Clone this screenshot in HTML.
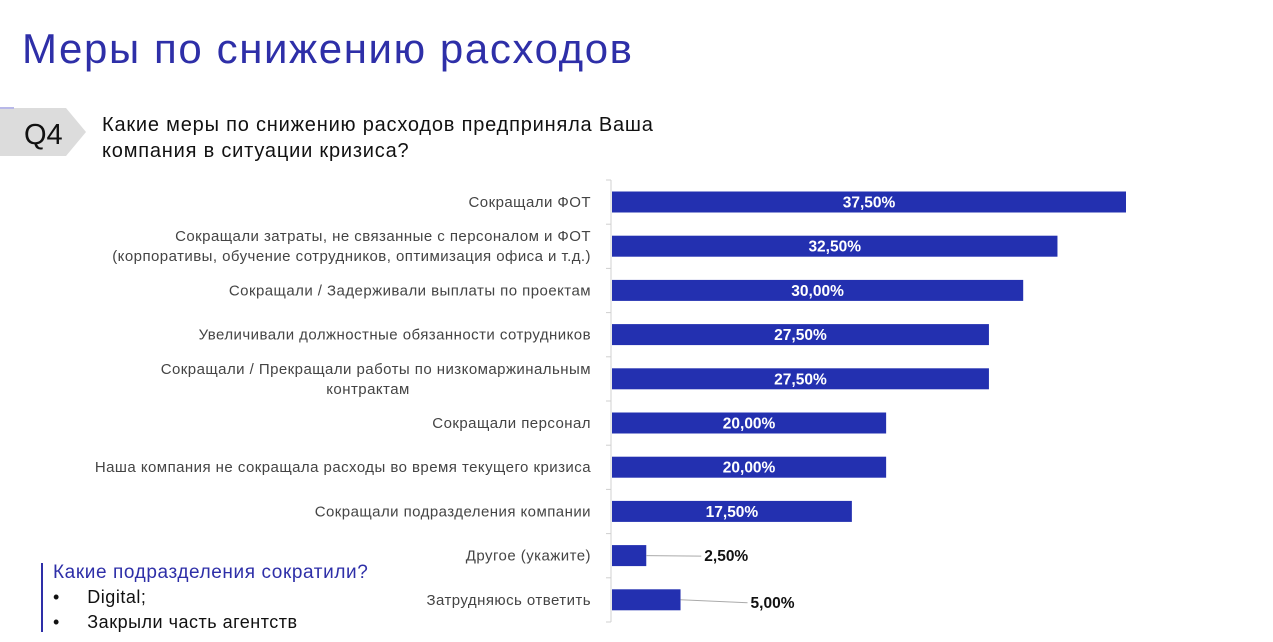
<!DOCTYPE html>
<html><head><meta charset="utf-8"><style>
body{margin:0;width:1273px;height:642px;background:#fff;font-family:"Liberation Sans","Noto Sans CJK SC",sans-serif;position:relative;overflow:hidden}
.t{position:absolute;white-space:nowrap}
</style></head><body>
<div class="t" style="left:22px;top:25px;font-size:42px;letter-spacing:1.6px;color:#2e2fa8">Меры по снижению расходов</div>
<svg style="position:absolute;left:0;top:0" width="200" height="170">
<polygon points="0,108 66,108 86,132 66,156 0,156" fill="#dcdcdc"/>
<line x1="0" y1="108" x2="14" y2="108" stroke="#b8b8e8" stroke-width="2"/>
<text x="24" y="144" font-size="29" font-family="Liberation Sans" fill="#111">Q4</text>
</svg>
<div class="t" style="left:102px;top:112px;font-size:20px;letter-spacing:0.8px;line-height:26px;color:#111">Какие меры по снижению расходов предприняла Ваша<br>компания в ситуации кризиса?</div>
<svg id="chart" style="position:absolute;left:0;top:0" width="1273" height="642"></svg>
<div style="position:absolute;left:41px;top:563px;width:2px;height:69px;background:#2e2fa8"></div>
<div class="t" style="left:53px;top:562px;font-size:19px;letter-spacing:0.6px;color:#2e2fa8">Какие подразделения сократили?</div>
<div class="t" style="left:53px;top:587px;font-size:18px;letter-spacing:0.5px;color:#111">•&nbsp;&nbsp;&nbsp;&nbsp;&nbsp;Digital;</div>
<div class="t" style="left:53px;top:612px;font-size:18px;letter-spacing:0.5px;color:#111">•&nbsp;&nbsp;&nbsp;&nbsp;&nbsp;Закрыли часть агентств</div>
<script>
const categories=[["Сокращали ФОТ"],["Сокращали затраты, не связанные с персоналом и ФОТ","(корпоративы, обучение сотрудников, оптимизация офиса и т.д.)"],["Сокращали / Задерживали выплаты по проектам"],["Увеличивали должностные обязанности сотрудников"],["Сокращали / Прекращали работы по низкомаржинальным","контрактам"],["Сокращали персонал"],["Наша компания не сокращала расходы во время текущего кризиса"],["Сокращали подразделения компании"],["Другое (укажите)"],["Затрудняюсь ответить"]];
const values=[37.5,32.5,30,27.5,27.5,20,20,17.5,2.5,5];
const valueLabels=["37,50%","32,50%","30,00%","27,50%","27,50%","20,00%","20,00%","17,50%","2,50%","5,00%"];
const NS="http://www.w3.org/2000/svg";
const svg=document.getElementById('chart');
const x0=612,pxPer=514/37.5;
const xs=v=>x0+v*pxPer;
const ys=i=>202+i*44.2;
function mk(t,a){const e=document.createElementNS(NS,t);for(const k in a)e.setAttribute(k,a[k]);svg.appendChild(e);return e;}
const ax=mk('line',{x1:611,y1:180,x2:611,y2:622,stroke:'#d0d0d0','stroke-width':1});


for(let i=0;i<=values.length;i++){const y=ys(i)-22;const tk=mk('line',{x1:606,y1:y,x2:611,y2:y,stroke:'#d0d0d0'});

}
values.forEach((v,i)=>{
 const cy=ys(i);
 const r=mk('rect',{x:x0,y:cy-10.5,width:xs(v)-x0,height:21,fill:'#2330b0'});
 
 
 const lines=categories[i];
 lines.forEach((s,j)=>{const t=mk('text',{x:591,y:cy+5+(j-(lines.length-1)/2)*20,'text-anchor':'end','font-size':15,'letter-spacing':0.45,fill:'#444','font-family':'Liberation Sans'});
  t.textContent=s;
  
  
  if(lines.length==2&&j==1&&i==4){t.setAttribute('text-anchor','middle');t.setAttribute('x',368);}});
 let lx,ly=cy+5.5,col='#fff',anc='middle';
 if(v>10){lx=(x0+xs(v))/2;}
 else{col='#111';anc='start';lx=xs(v)+58+(i==9?12:0);if(i==9)ly=cy+8;
  const ld=mk('line',{x1:xs(v),y1:cy,x2:lx-3,y2:ly-5,stroke:'#aaa'});
  
  }
 const vt=mk('text',{x:lx,y:ly,'text-anchor':anc,'font-size':15.5,'font-weight':'bold',fill:col,'font-family':'Liberation Sans'});
 vt.textContent=valueLabels[i];
 
 
});
</script>
</body></html>
